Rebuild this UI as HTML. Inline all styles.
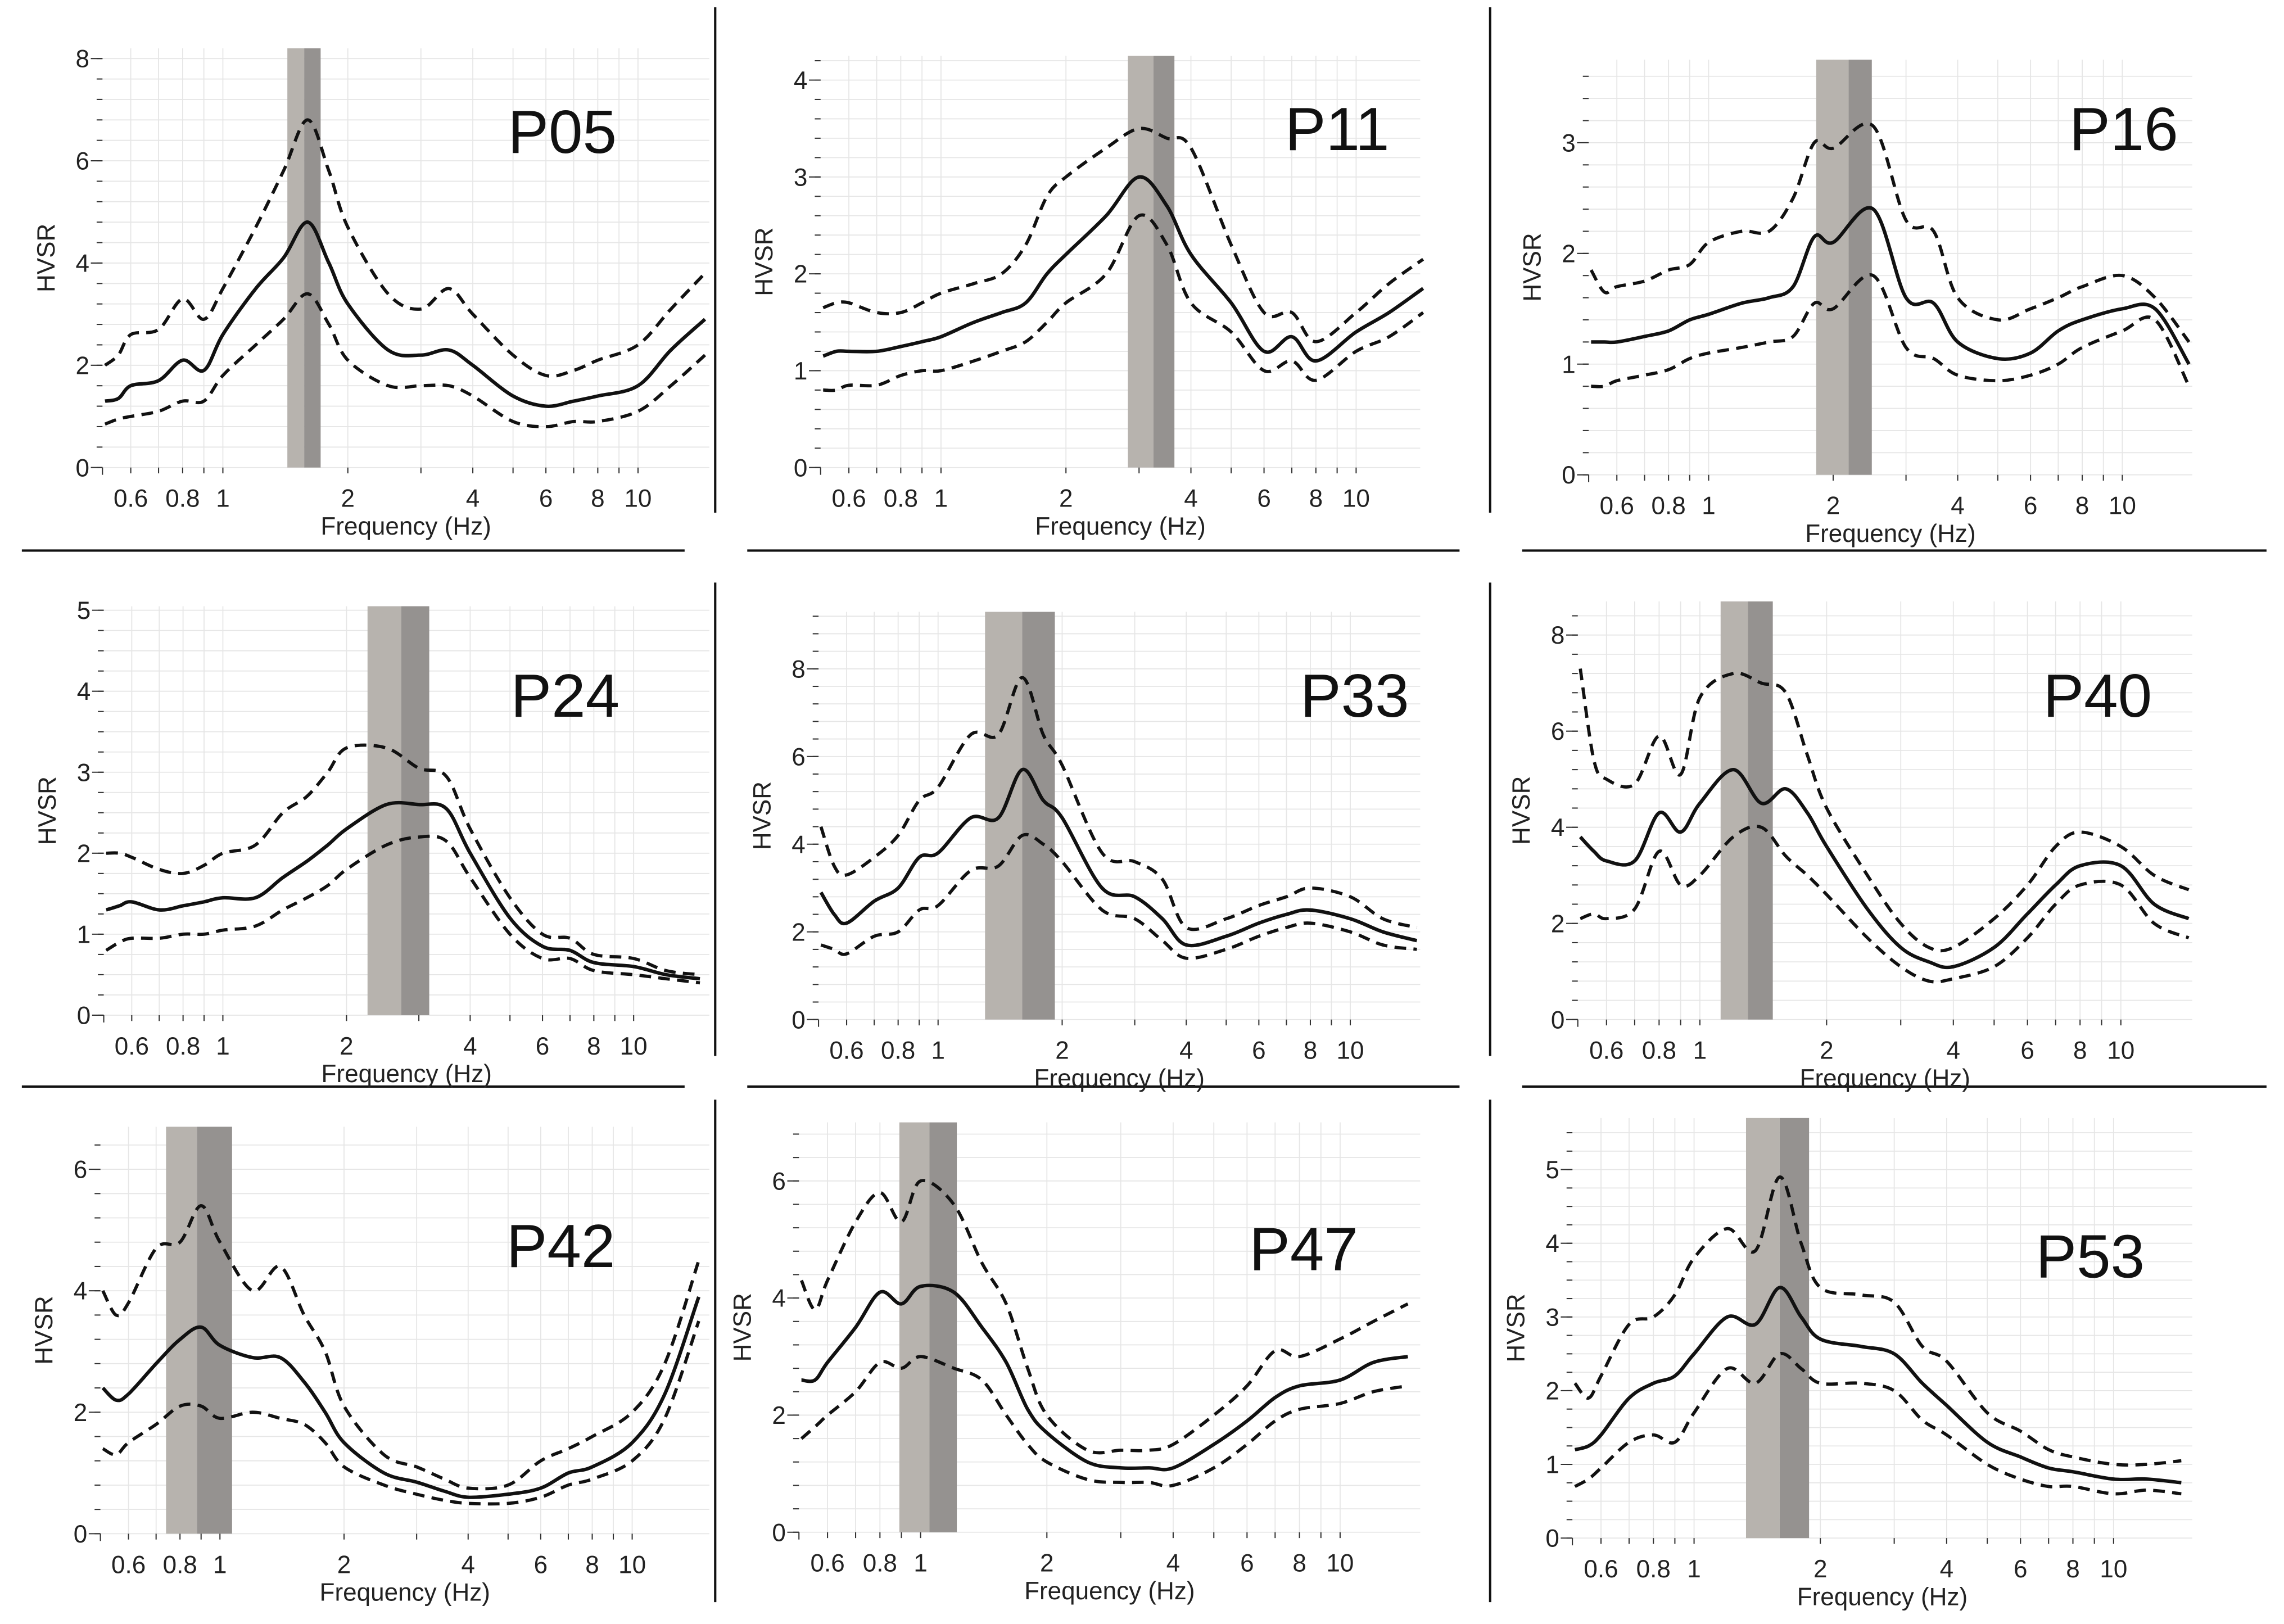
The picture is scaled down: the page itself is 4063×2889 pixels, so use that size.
<!DOCTYPE html>
<html><head><meta charset="utf-8">
<style>
html,body{margin:0;padding:0;background:#fff;}
svg{display:block;font-family:"Liberation Sans",sans-serif;}
</style></head>
<body>
<svg id="fig" width="4063" height="2889" viewBox="0 0 1568 1115" preserveAspectRatio="none" xmlns="http://www.w3.org/2000/svg">
<g stroke="#111" stroke-width="1.6">
<line x1="15" y1="378" x2="470" y2="378"/><line x1="513" y1="378" x2="1002" y2="378"/><line x1="1045" y1="378" x2="1556" y2="378"/>
<line x1="15" y1="746" x2="470" y2="746"/><line x1="513" y1="746" x2="1002" y2="746"/><line x1="1045" y1="746" x2="1556" y2="746"/>
<line x1="491" y1="5" x2="491" y2="352"/><line x1="491" y1="400" x2="491" y2="725"/><line x1="491" y1="755" x2="491" y2="1100"/>
<line x1="1023" y1="5" x2="1023" y2="352"/><line x1="1023" y1="400" x2="1023" y2="725"/><line x1="1023" y1="755" x2="1023" y2="1100"/>
</g>
</svg>
<script>
const freqs=[0.52,0.56,0.6,0.7,0.8,0.9,1,1.2,1.4,1.6,1.8,2,2.5,3,3.5,4,5,6,7,8,10,12,14.5];
const names=["P05","P11","P16","P24","P33","P40","P42","P47","P53"];
const meanP05=[1.3,1.35,1.6,1.7,2.1,1.9,2.6,3.5,4.1,4.8,4.0,3.2,2.3,2.2,2.3,2.0,1.4,1.2,1.3,1.4,1.6,2.3,2.9];
const upP05=[2.0,2.2,2.6,2.7,3.3,2.9,3.5,4.7,5.8,6.8,5.8,4.7,3.4,3.1,3.5,3.0,2.2,1.8,1.9,2.1,2.4,3.1,3.8];
const loP05=[0.85,0.95,1.0,1.1,1.3,1.3,1.8,2.4,2.9,3.4,2.8,2.1,1.6,1.6,1.6,1.4,0.9,0.8,0.9,0.9,1.1,1.6,2.2];
const meanP11=[1.15,1.2,1.2,1.2,1.25,1.3,1.35,1.5,1.6,1.7,2.0,2.2,2.6,3.0,2.7,2.2,1.7,1.2,1.35,1.1,1.4,1.6,1.85];
const upP11=[1.65,1.7,1.7,1.6,1.6,1.7,1.8,1.9,2.0,2.3,2.8,3.0,3.3,3.5,3.4,3.3,2.3,1.6,1.6,1.3,1.6,1.9,2.15];
const loP11=[0.8,0.8,0.85,0.85,0.95,1.0,1.0,1.1,1.2,1.3,1.5,1.7,2.0,2.6,2.3,1.7,1.4,1.0,1.1,0.9,1.2,1.35,1.6];
const meanP16=[1.2,1.2,1.2,1.25,1.3,1.4,1.45,1.55,1.6,1.7,2.15,2.1,2.4,1.6,1.55,1.2,1.05,1.1,1.3,1.4,1.5,1.5,1.0];
const upP16=[1.85,1.65,1.7,1.75,1.85,1.9,2.1,2.2,2.2,2.5,3.0,2.95,3.15,2.3,2.2,1.6,1.4,1.5,1.6,1.7,1.8,1.6,1.2];
const loP16=[0.8,0.8,0.85,0.9,0.95,1.05,1.1,1.15,1.2,1.25,1.55,1.5,1.8,1.15,1.05,0.9,0.85,0.9,1.0,1.15,1.3,1.4,0.8];
const meanP24=[1.3,1.35,1.4,1.3,1.35,1.4,1.45,1.45,1.7,1.9,2.1,2.3,2.6,2.6,2.55,2.0,1.2,0.85,0.8,0.65,0.6,0.5,0.45];
const upP24=[2.0,2.0,1.95,1.8,1.75,1.85,2.0,2.1,2.5,2.7,3.0,3.3,3.3,3.05,2.95,2.3,1.45,1.0,0.95,0.75,0.7,0.55,0.5];
const loP24=[0.8,0.9,0.95,0.95,1.0,1.0,1.05,1.1,1.3,1.45,1.6,1.8,2.1,2.2,2.15,1.7,1.0,0.7,0.7,0.55,0.5,0.45,0.4];
const meanP33=[2.9,2.4,2.2,2.7,3.0,3.7,3.8,4.6,4.6,5.7,5.0,4.6,3.0,2.8,2.3,1.7,1.9,2.2,2.4,2.5,2.3,2.0,1.8];
const upP33=[4.4,3.5,3.3,3.7,4.2,5.0,5.3,6.5,6.5,7.8,6.5,5.8,3.8,3.6,3.2,2.1,2.3,2.6,2.8,3.0,2.8,2.3,2.1];
const loP33=[1.7,1.6,1.5,1.9,2.0,2.5,2.6,3.4,3.5,4.2,4.0,3.6,2.5,2.3,1.8,1.4,1.6,1.9,2.1,2.2,2.0,1.7,1.6];
const meanP40=[3.8,3.5,3.3,3.3,4.3,3.9,4.5,5.2,4.5,4.8,4.3,3.6,2.3,1.5,1.2,1.1,1.5,2.2,2.8,3.2,3.2,2.4,2.1];
const upP40=[7.3,5.4,5.0,4.9,5.9,5.1,6.7,7.2,7.0,6.8,5.5,4.4,3.0,2.0,1.5,1.5,2.1,2.8,3.6,3.9,3.6,3.0,2.7];
const loP40=[2.1,2.2,2.1,2.3,3.5,2.8,3.0,3.8,4.0,3.4,3.0,2.6,1.7,1.1,0.8,0.85,1.1,1.7,2.4,2.8,2.8,2.0,1.7];
const meanP42=[2.4,2.2,2.3,2.8,3.2,3.4,3.1,2.9,2.9,2.5,2.0,1.5,1.0,0.85,0.7,0.6,0.65,0.75,1.0,1.1,1.5,2.3,3.9];
const upP42=[4.0,3.6,3.8,4.7,4.8,5.4,4.8,4.0,4.4,3.6,3.0,2.1,1.3,1.1,0.9,0.75,0.8,1.2,1.4,1.6,2.0,2.8,4.5];
const loP42=[1.4,1.3,1.5,1.8,2.1,2.1,1.9,2.0,1.9,1.8,1.5,1.1,0.8,0.65,0.55,0.5,0.5,0.6,0.8,0.9,1.2,1.9,3.5];
const meanP47=[2.6,2.6,2.9,3.5,4.1,3.9,4.2,4.1,3.5,2.9,2.1,1.7,1.2,1.1,1.1,1.1,1.5,1.9,2.3,2.5,2.6,2.9,3.0];
const upP47=[4.3,3.8,4.3,5.3,5.8,5.3,6.0,5.6,4.6,3.9,2.8,2.0,1.4,1.4,1.4,1.5,2.0,2.5,3.1,3.0,3.3,3.6,3.9];
const loP47=[1.6,1.8,2.0,2.4,2.9,2.8,3.0,2.8,2.6,2.0,1.5,1.2,0.9,0.85,0.85,0.8,1.1,1.5,1.9,2.1,2.2,2.4,2.5];
const meanP53=[1.2,1.25,1.4,1.9,2.1,2.2,2.5,3.0,2.9,3.4,3.0,2.7,2.6,2.5,2.1,1.8,1.3,1.1,0.95,0.9,0.8,0.8,0.75];
const upP53=[2.1,1.9,2.2,2.9,3.0,3.3,3.8,4.2,3.9,4.9,4.0,3.4,3.3,3.2,2.6,2.4,1.7,1.45,1.2,1.1,1.0,1.0,1.05];
const loP53=[0.7,0.8,0.95,1.3,1.4,1.3,1.7,2.3,2.1,2.5,2.3,2.1,2.1,2.0,1.6,1.4,1.0,0.8,0.7,0.7,0.6,0.65,0.6];
const bandsLight=[[1.43,1.57],[2.82,3.25],[1.82,2.18],[2.25,2.72],[1.3,1.6],[1.12,1.3],[0.74,0.88],[0.89,1.05],[1.33,1.6]];
const bandsDark=[[1.57,1.72],[3.25,3.65],[2.18,2.48],[2.72,3.18],[1.6,1.92],[1.3,1.49],[0.88,1.07],[1.05,1.22],[1.6,1.88]];
const yTicks=[[0,2,4,6,8],[0,1,2,3,4],[0,1,2,3],[0,1,2,3,4,5],[0,2,4,6,8],[0,2,4,6,8],[0,2,4,6],[0,2,4,6],[0,1,2,3,4,5]];
const xTickLabels=[0.6,0.8,1,2,4,6,8,10];
const series=[[meanP05,upP05,loP05],[meanP11,upP11,loP11],[meanP16,upP16,loP16],[meanP24,upP24,loP24],[meanP33,upP33,loP33],[meanP40,upP40,loP40],[meanP42,upP42,loP42],[meanP47,upP47,loP47],[meanP53,upP53,loP53]];
const layout=[
 {fx1:153,dec:285,y0:321,yu:35.1,r:487,ymax:8.2,tx:386,ty:90},
 {fx1:646,dec:285,y0:321,yu:66.5,r:975,ymax:4.25,tx:918,ty:88},
 {fx1:1173,dec:284,y0:326,yu:76,r:1505,ymax:3.75,tx:1458,ty:88},
 {fx1:153,dec:282,y0:697,yu:55.6,r:487,ymax:5.05,tx:388,ty:477},
 {fx1:644,dec:283,y0:700,yu:30.1,r:975,ymax:9.3,tx:930,ty:477},
 {fx1:1167,dec:289,y0:700,yu:33,r:1505,ymax:8.7,tx:1440,ty:477},
 {fx1:151,dec:283,y0:1053,yu:41.7,r:487,ymax:6.7,tx:385,ty:855},
 {fx1:632,dec:288,y0:1052,yu:40.2,r:975,ymax:7,tx:895,ty:857},
 {fx1:1163,dec:288,y0:1056,yu:50.6,r:1505,ymax:5.7,tx:1435,ty:862}
];
const NS="http://www.w3.org/2000/svg";
const svg=document.getElementById('fig');
function mk(tag,attrs,parent){const e=document.createElementNS(NS,tag);for(const k in attrs)e.setAttribute(k,attrs[k]);parent.appendChild(e);return e;}
function smooth(pts){let d="M"+pts[0][0].toFixed(1)+","+pts[0][1].toFixed(1);
 for(let i=0;i<pts.length-1;i++){const p0=pts[Math.max(0,i-1)],p1=pts[i],p2=pts[i+1],p3=pts[Math.min(pts.length-1,i+2)];
  const c1=[p1[0]+(p2[0]-p0[0])/6,p1[1]+(p2[1]-p0[1])/6],c2=[p2[0]-(p3[0]-p1[0])/6,p2[1]-(p3[1]-p1[1])/6];
  d+=" C"+c1[0].toFixed(1)+","+c1[1].toFixed(1)+" "+c2[0].toFixed(1)+","+c2[1].toFixed(1)+" "+p2[0].toFixed(1)+","+p2[1].toFixed(1);}
 return d;}
names.forEach((nm,i)=>{
 const L=layout[i];
 L.l=L.fx1-0.29*L.dec;
 const X=f=>L.fx1+L.dec*Math.log10(f);
 const Y=v=>L.y0-v*L.yu;
 const g=mk('g',{},svg);
 
 
 const fmin=Math.pow(10,(L.l-L.fx1)/L.dec),fmax=Math.pow(10,(L.r-L.fx1)/L.dec);
 const grid=mk('g',{stroke:'#e6e6e6','stroke-width':0.7},g);
 
 
 const minors=[];
 [0.1,1,10].forEach(b=>{for(let k=1;k<10;k++){const f=b*k;if(f>fmin&&f<fmax)minors.push(f);}});
 minors.forEach(f=>mk('line',{x1:X(f),x2:X(f),y1:Y(L.ymax),y2:L.y0},grid));
 const ystep=L.ymax>6?0.4:(L.ymax>4.5?0.25:0.2);
 for(let v=0;v<=L.ymax;v+=ystep)mk('line',{x1:L.l,x2:L.r,y1:Y(v),y2:Y(v)},grid);
 const bl=mk('rect',{x:X(bandsLight[i][0]),y:Y(L.ymax),width:X(bandsLight[i][1])-X(bandsLight[i][0]),height:L.y0-Y(L.ymax),fill:'#b7b3ae'},g);
 
 
 const bd=mk('rect',{x:X(bandsDark[i][0]),y:Y(L.ymax),width:X(bandsDark[i][1])-X(bandsDark[i][0]),height:L.y0-Y(L.ymax),fill:'#959290'},g);
 
 
 const ax=mk('g',{stroke:'#333','stroke-width':0.8},g);
 
 
 for(let v=0;v<=L.ymax;v+=ystep)mk('line',{x1:L.l-4,x2:L.l,y1:Y(v),y2:Y(v)},ax);
 minors.forEach(f=>mk('line',{x1:X(f),x2:X(f),y1:L.y0,y2:L.y0+4},ax));
 mk('line',{x1:L.l,x2:L.l,y1:L.y0,y2:L.y0+5},ax);
 yTicks[i].forEach(v=>{
  mk('line',{x1:L.l-8,x2:L.l,y1:Y(v),y2:Y(v)},ax);
  const t=mk('text',{x:L.l-9,y:Y(v)+6,'text-anchor':'end','font-size':17,fill:'#222',stroke:'none'},g);
  t.textContent=v;
  
  
 });
 xTickLabels.forEach(f=>{
  const t=mk('text',{x:X(f),y:L.y0+27,'text-anchor':'middle','font-size':17,fill:'#222'},g);
  t.textContent=f;
  
  
 });
 const xl=mk('text',{x:(L.l+L.r)/2,y:L.y0+46,'text-anchor':'middle','font-size':17,fill:'#222'},g);
 xl.textContent='Frequency (Hz)';
 
 
 const yc=(L.y0+Y(L.ymax))/2;
 const yx=L.l-33;
 const yl=mk('text',{x:yx,y:yc,'text-anchor':'middle','font-size':17,fill:'#222',transform:'rotate(-90 '+yx+' '+yc+')'},g);
 yl.textContent='HVSR';
 
 
 const s=series[i];
 const styles=[{'stroke-width':2.4},{'stroke-width':2.2,'stroke-dasharray':'8,5'},{'stroke-width':2.2,'stroke-dasharray':'8,5'}];
 const snames=['mean-curve','upper-std-curve','lower-std-curve'];
 s.forEach((arr,j)=>{
  const pts=arr.map((v,k)=>[X(freqs[k]),Y(v)]);
  const p=mk('path',Object.assign({d:smooth(pts),fill:'none',stroke:'#111','stroke-linejoin':'round'},styles[j]),g);
  
  
 });
 const tt=mk('text',{x:L.tx,y:L.ty+15,'text-anchor':'middle','font-size':42,fill:'#111'},g);
 tt.textContent=nm;
 
 
});
</script>
</body></html>
